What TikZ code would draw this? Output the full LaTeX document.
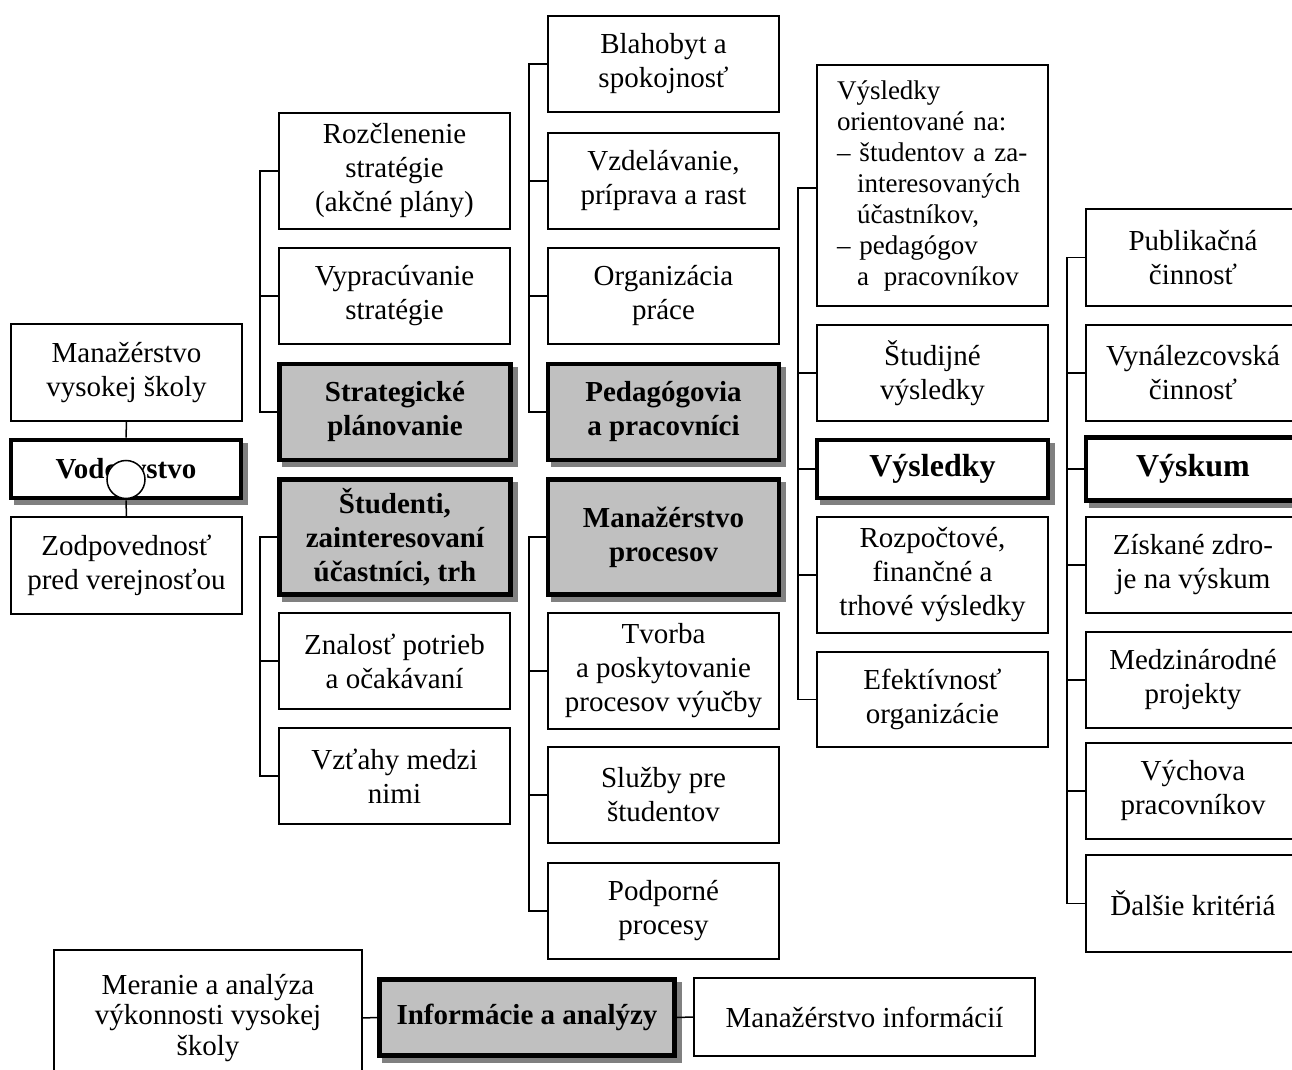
\documentclass[tikz,border=0pt]{standalone}
\usepackage{fontspec}
\setmainfont{Liberation Serif}
\usetikzlibrary{shadows}
\definecolor{boxgray}{HTML}{C0C0C0}
\definecolor{shgray}{HTML}{808080}
\newcommand{\fsn}{\fontsize{14.5pt}{17pt}\selectfont}
\newcommand{\fsbold}{\fontsize{14.5pt}{17pt}\selectfont\bfseries}
\newcommand{\fsbig}{\fontsize{16pt}{19pt}\selectfont\bfseries}
\newcommand{\fsvor}{\fontsize{13.5pt}{15.5pt}\selectfont}
\begin{document}
\begin{tikzpicture}[x=0.5pt, y=-0.5pt,
  box/.style={draw, line width=0.75pt, inner sep=0pt, align=center, font=\fsn, fill=white},
  wh/.style 2 args={minimum width=#1*0.5pt, minimum height=#2*0.5pt},
  hl/.style={line width=2.3pt, font=\fsbold,
     drop shadow={shadow xshift=2.5pt, shadow yshift=-2.5pt, fill=shgray, draw=shgray, line width=2.3pt, opacity=1}},
  gr/.style={fill=boxgray},
  link/.style={line width=0.75pt}]
\useasboundingbox (0,0) rectangle (1292,1070);
\clip (0,0) rectangle (1292,1070);

\coordinate (b2) at (260,0);
\coordinate (b3) at (529,0);
\coordinate (b4) at (798,0);
\coordinate (b5) at (1067,0);

% column 1
\node[box, wh={231}{97}] (mvs) at (126.5,372.5) {Manažérstvo\\vysokej školy};
\node[box, hl, wh={230}{58}] (vod) at (126,469) {Vodcovstvo};
\node[box, wh={231}{97}] (zod) at (126.5,565.5) {Zodpovednosť\\pred verejnosťou};
\draw[link] (mvs.south) -- (vod.north);
\draw[link] (vod.south) -- (zod.north);
\node[circle, draw, line width=0.75pt, fill=white, minimum size=19pt, inner sep=0pt] (circ) at (126,479.5) {};

% column 2
\node[box, wh={231}{116}] (roz) at (394.5,171) {Rozčlenenie\\stratégie\\(akčné plány)};
\node[box, wh={231}{96}] (vyp) at (394.5,296) {Vypracúvanie\\stratégie};
\node[box, hl, gr, wh={231}{96}] (str) at (395,412) {Strategické\\plánovanie};
\node[box, hl, gr, wh={231}{115}] (stu) at (395,537) {Študenti,\\zainteresovaní\\účastníci, trh};
\node[box, wh={231}{96}] (zna) at (394.5,661) {Znalosť potrieb\\a očakávaní};
\node[box, wh={231}{96}] (vzt) at (394.5,776) {Vzťahy medzi\\nimi};

% column 3
\node[box, wh={231}{96}] (bla) at (663.5,64) {Blahobyt a\\spokojnosť};
\node[box, wh={231}{96}] (vzd) at (663.5,181) {Vzdelávanie,\\príprava a rast};
\node[box, wh={231}{96}] (org) at (663.5,296) {Organizácia\\práce};
\node[box, hl, gr, wh={231}{96}] (ped) at (663.5,412) {Pedagógovia\\a pracovníci};
\node[box, hl, gr, wh={231}{115}] (mpr) at (663.5,537) {Manažérstvo\\procesov};
\node[box, wh={231}{116}] (tvo) at (663.5,671) {Tvorba\\a poskytovanie\\procesov výučby};
\node[box, wh={231}{96}] (slu) at (663.5,795) {Služby pre\\študentov};
\node[box, wh={231}{96}] (pod) at (663.5,911) {Podporné\\procesy};

% column 4
\node[box, wh={231}{241}, text width=95.5pt, inner xsep=10pt, align=left, font=\fsvor] (vor) at (932.5,185.5)
  {Výsledky\\orientované na:\\– študentov a za-\\\hspace*{10pt}interesovaných\\\hspace*{10pt}účastníkov,\\– pedagógov\\\hspace*{10pt}a\hspace{0.55em}pracovníkov};
\node[box, wh={231}{96}] (stj) at (932.5,373) {Študijné\\výsledky};
\node[box, hl, wh={231}{58}, font=\fsbig] (vys) at (932.5,469) {Výsledky};
\node[box, wh={231}{116}] (rzp) at (932.5,575) {Rozpočtové,\\finančné a\\trhové výsledky};
\node[box, wh={231}{95}] (efe) at (932.5,699.5) {Efektívnosť\\organizácie};

% column 5
\node[box, wh={214}{97}] (pub) at (1193,257.5) {Publikačná\\činnosť};
\node[box, wh={214}{96}] (vyn) at (1193,373) {Vynálezcovská\\činnosť};
\node[box, hl, wh={214}{63}, font=\fsbig] (vsk) at (1193,469) {Výskum};
\node[box, wh={214}{96}] (zis) at (1193,565) {Získané zdro-\\je na výskum};
\node[box, wh={214}{96}] (med) at (1193,680) {Medzinárodné\\projekty};
\node[box, wh={214}{96}] (vch) at (1193,791) {Výchova\\pracovníkov};
\node[box, wh={214}{97}] (dal) at (1193,903.5) {Ďalšie kritériá};

% bottom row
\node[box, wh={308}{136}, font=\fontsize{14.5pt}{15.2pt}\selectfont] (mer) at (208,1018) {Meranie a analýza\\výkonnosti vysokej\\školy};
\node[box, hl, gr, wh={295}{76}] (inf) at (527,1017.5) {Informácie a analýzy};
\node[box, wh={341}{78}] (min) at (864.5,1017) {Manažérstvo informácií};
\draw[link] (mer.east) -- (inf.west);
\draw[link] (inf.east) -- (min.west);

% brackets column 2
\draw[link] (roz.west) -- (roz.west -| b2) -- (str.west -| b2) -- (str.west);
\draw[link] (vyp.west) -- (vyp.west -| b2);
\draw[link] (stu.west) -- (stu.west -| b2) -- (vzt.west -| b2) -- (vzt.west);
\draw[link] (zna.west) -- (zna.west -| b2);

% brackets column 3
\draw[link] (bla.west) -- (bla.west -| b3) -- (ped.west -| b3) -- (ped.west);
\draw[link] (vzd.west) -- (vzd.west -| b3);
\draw[link] (org.west) -- (org.west -| b3);
\draw[link] (mpr.west) -- (mpr.west -| b3) -- (pod.west -| b3) -- (pod.west);
\draw[link] (tvo.west) -- (tvo.west -| b3);
\draw[link] (slu.west) -- (slu.west -| b3);

% bracket column 4
\draw[link] ([yshift=-1.25pt]vor.west) -- ([yshift=-1.25pt]vor.west -| b4) -- (efe.west -| b4) -- (efe.west);
\draw[link] (stj.west) -- (stj.west -| b4);
\draw[link] (vys.west) -- (vys.west -| b4);
\draw[link] (rzp.west) -- (rzp.west -| b4);

% bracket column 5
\draw[link] (pub.west) -- (pub.west -| b5) -- (dal.west -| b5) -- (dal.west);
\draw[link] (vyn.west) -- (vyn.west -| b5);
\draw[link] (vsk.west) -- (vsk.west -| b5);
\draw[link] (zis.west) -- (zis.west -| b5);
\draw[link] (med.west) -- (med.west -| b5);
\draw[link] (vch.west) -- (vch.west -| b5);
\end{tikzpicture}
\end{document}
